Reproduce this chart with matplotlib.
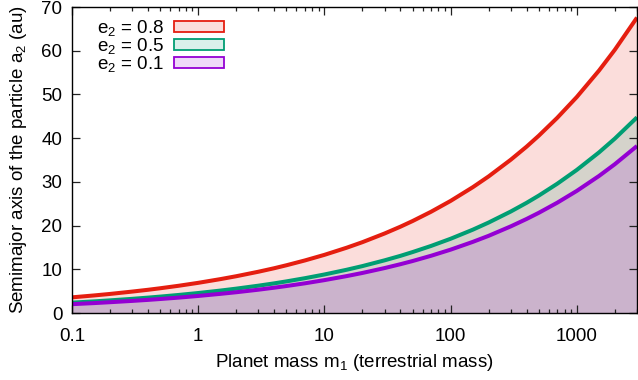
import matplotlib
matplotlib.use("Agg")
import matplotlib.pyplot as plt
from matplotlib.patches import Patch
from matplotlib.ticker import FixedLocator, FixedFormatter, LogLocator, NullFormatter

plt.rcParams['font.family'] = ['Liberation Sans', 'DejaVu Sans']
plt.rcParams['mathtext.default'] = 'regular'

# planet mass (terrestrial masses)
mass = [0.1, 0.15, 0.2, 0.3, 0.4, 0.5, 0.7,
        1, 1.5, 2, 3, 4, 5, 7,
        10, 15, 20, 30, 40, 50, 70,
        100, 150, 200, 300, 400, 500, 700,
        1000, 1500, 2000, 3000]
# semimajor axis of the particle (au)
a_e08 = [3.58, 4.02, 4.36, 4.90, 5.31, 5.66, 6.23,
         6.90, 7.75, 8.41, 9.44, 10.24, 10.92, 12.02,
         13.30, 14.93, 16.20, 18.19, 19.74, 21.04, 23.16,
         25.64, 28.78, 31.24, 35.07, 38.05, 40.56, 44.65,
         49.41, 55.46, 60.20, 67.58]
a_e05 = [2.37, 2.66, 2.89, 3.24, 3.52, 3.75, 4.13,
         4.57, 5.13, 5.57, 6.25, 6.78, 7.23, 7.96,
         8.81, 9.89, 10.73, 12.05, 13.07, 13.94, 15.34,
         16.98, 19.06, 20.69, 23.22, 25.20, 26.86, 29.57,
         32.73, 36.74, 39.88, 44.76]
a_e01 = [2.02, 2.27, 2.47, 2.77, 3.00, 3.20, 3.52,
         3.90, 4.38, 4.75, 5.33, 5.79, 6.17, 6.79,
         7.52, 8.44, 9.16, 10.28, 11.16, 11.89, 13.09,
         14.49, 16.27, 17.65, 19.82, 21.51, 22.92, 25.23,
         27.93, 31.35, 34.03, 38.20]

labels = ['e$_2$ = 0.8', 'e$_2$ = 0.5', 'e$_2$ = 0.1']
colors = ['#e51e10', '#009e73', '#9400d3']
xticks = [0.1, 1, 10, 100, 1000]
xticklabels = ['0.1', '1', '10', '100', '1000']
yticks = [0, 10, 20, 30, 40, 50, 60, 70]

fs = 13.5

fig = plt.figure(figsize=(6.38, 3.80), dpi=100)
ax = fig.add_axes([72/638, 1-313/380, 565/638, 306/380])

series = [a_e08, a_e05, a_e01]
handles = []
for ys, c, lab in zip(series, colors, labels):
    ax.fill_between(mass, 0, ys, color=c, alpha=0.15, linewidth=0)
    handles.append(Patch(facecolor=matplotlib.colors.to_rgba(c, 0.15), edgecolor=c, linewidth=1.3, label=lab))
for ys, c in zip(series, colors):
    ax.plot(mass, ys, color=c, linewidth=2.9, solid_capstyle='butt')

ax.set_xscale('log')
ax.set_xlim(0.1, 3000)
ax.set_ylim(0, 70)
ax.xaxis.set_major_locator(FixedLocator(xticks))
ax.xaxis.set_major_formatter(FixedFormatter(xticklabels))
ax.xaxis.set_minor_locator(LogLocator(base=10, subs=range(2, 10)))
ax.xaxis.set_minor_formatter(NullFormatter())
ax.set_yticks(yticks)

ax.tick_params(which='both', direction='in', top=True, right=True, labelsize=fs, color='#222222')
ax.tick_params(which='major', length=6, width=0.9)
ax.tick_params(which='minor', length=3, width=0.9)
ax.tick_params(axis='x', pad=11)
ax.tick_params(axis='y', pad=7)
for s in ax.spines.values():
    s.set_linewidth(1.0)

ax.set_xlabel('Planet mass m$_1$ (terrestrial mass)', fontsize=fs, labelpad=5)
ax.set_ylabel('Semimajor axis of the particle a$_2$ (au)', fontsize=fs, labelpad=9)

ax.legend(handles=handles, loc='upper left', bbox_to_anchor=(0.044, 0.964), frameon=False,
          markerfirst=False, fontsize=fs, handlelength=2.67, handleheight=0.48,
          handletextpad=0.55, labelspacing=-0.1, borderpad=0, borderaxespad=0)

fig.savefig('out.png', dpi=100)
